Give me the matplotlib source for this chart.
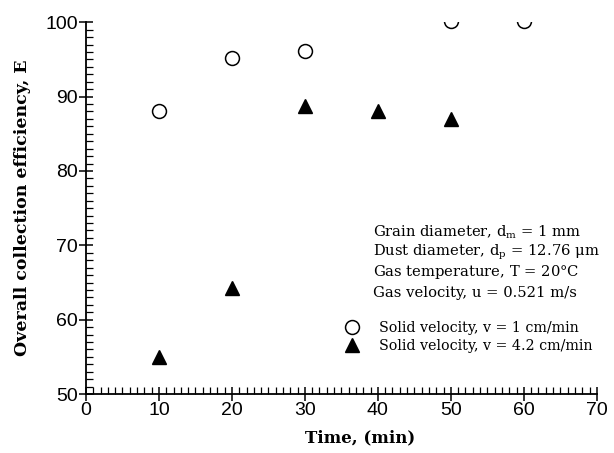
import matplotlib
matplotlib.use("Agg")
import matplotlib.pyplot as plt
from matplotlib.ticker import MultipleLocator

# data
time_v1 = [10, 20, 30, 50, 60]
eff_v1 = [88, 95.2, 96.1, 100.2, 100.1]
time_v42 = [10, 20, 30, 40, 50]
eff_v42 = [55, 64.2, 88.7, 88.1, 87.0]

info_lines = [
    r"Grain diameter, d$_\mathrm{m}$ = 1 mm",
    r"Dust diameter, d$_\mathrm{p}$ = 12.76 $\mathrm{\mu}$m",
    r"Gas temperature, T = 20$\degree$C",
    r"Gas velocity, u = 0.521 m/s",
]

plt.rcParams['mathtext.fontset'] = 'dejavuserif'

fig = plt.figure(figsize=(6.14, 4.53), dpi=100)
ax = fig.add_axes([0.14, 0.13, 0.832, 0.821])

ax.plot(time_v1, eff_v1, linestyle='', marker='o', markersize=10,
        markerfacecolor='white', markeredgecolor='black', markeredgewidth=1.1,
        label='Solid velocity, v = 1 cm/min')
ax.plot(time_v42, eff_v42, linestyle='', marker='^', markersize=10,
        color='black', label='Solid velocity, v = 4.2 cm/min')

ax.set_xlim(0, 70)
ax.set_ylim(50, 100)
ax.xaxis.set_major_locator(MultipleLocator(10))
ax.xaxis.set_minor_locator(MultipleLocator(1))
ax.yaxis.set_major_locator(MultipleLocator(10))
ax.yaxis.set_minor_locator(MultipleLocator(1))

ax.spines['top'].set_visible(False)
ax.spines['right'].set_visible(False)
for s in ['left', 'bottom']:
    ax.spines[s].set_linewidth(1.3)

ax.tick_params(which='major', direction='inout', length=10, width=1.1,
               labelsize=14, pad=1)
ax.tick_params(which='minor', direction='in', length=5, width=0.9)
for lab in ax.get_xticklabels() + ax.get_yticklabels():
    lab.set_family('Liberation Sans')

ax.set_xlabel('Time, (min)', family='DejaVu Serif', fontweight='bold',
              fontsize=12)
ax.xaxis.set_label_coords(0.536, -0.095)
ax.set_ylabel('Overall collection efficiency, E', family='DejaVu Serif',
              fontweight='bold', fontsize=12.5)
ax.yaxis.set_label_coords(-0.108, 0.5)

y0 = 0.435
for i, line in enumerate(info_lines):
    ax.text(0.562, y0 - i * 0.054, line, transform=ax.transAxes,
            family='DejaVu Serif', fontsize=10.6, va='center')

ax.legend(loc='center left', bbox_to_anchor=(0.474, 0.153), frameon=False,
          prop={'family': 'DejaVu Serif', 'size': 10.3},
          handletextpad=1.15, labelspacing=0.3, handlelength=1.5,
          borderpad=0.4)

fig.savefig('out.png', dpi=100)
